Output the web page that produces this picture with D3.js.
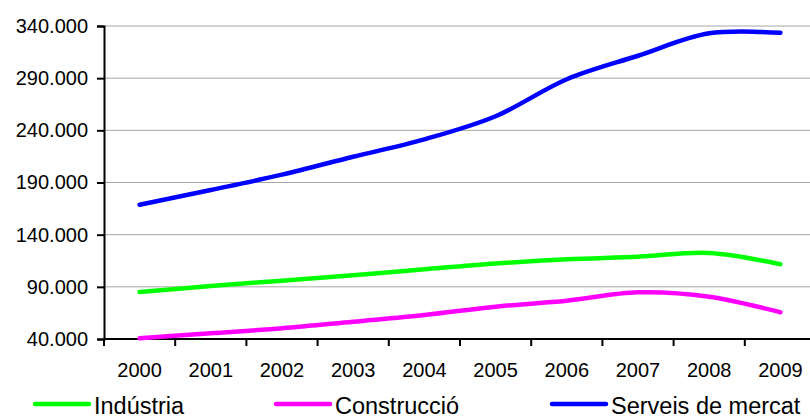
<!DOCTYPE html>
<html>
<head>
<meta charset="utf-8">
<script src="https://cdn.jsdelivr.net/npm/d3@7"></script>
<style>
  html, body { margin: 0; padding: 0; background: #fff; }
  svg { display: block; }
  text { font-family: "Liberation Sans", Arial, sans-serif; fill: #000; }
</style>
</head>
<body>
<svg id="chart" width="810" height="418"></svg>
<script>
const years = ["2000","2001","2002","2003","2004","2005","2006","2007","2008","2009"];
const industria   = [85000, 90800, 95900, 101000, 106800, 112300, 116400, 118900, 122500, 111600];
const construccio = [40700, 45500, 50300, 56600, 63000, 71000, 76700, 84700, 80500, 65600];
const serveis     = [168700, 182800, 197500, 214700, 231400, 253500, 289000, 311500, 333000, 333500];
const seriesNames = ["Indústria", "Construcció", "Serveis de mercat"];
const seriesColors = ["#00ff00", "#ff00ff", "#0000ff"];
const yTicks = [40000, 90000, 140000, 190000, 240000, 290000, 340000];

const svg = d3.select("#chart");
const pLeft = 104, pRight = 816, pTop = 26, pBottom = 339;

const x = d3.scaleBand().domain(years).range([pLeft, pRight]).padding(0);
const y = d3.scaleLinear().domain([40000, 340000]).range([pBottom, pTop]);
const loc = d3.formatLocale({decimal: ",", thousands: ".", grouping: [3], currency: ["", "€"]});
const fmt = loc.format(",.0f");

// gridlines
svg.append("g").selectAll("line").data(yTicks.slice(1)).join("line")
  .attr("x1", pLeft).attr("x2", pRight)
  .attr("y1", d => y(d)).attr("y2", d => y(d))
  .attr("stroke", "#a6a6a6").attr("stroke-width", 1);

// y axis
const yAxis = svg.append("g").attr("transform", `translate(${pLeft},0)`)
  .call(d3.axisLeft(y).tickValues(yTicks).tickFormat(fmt).tickSize(7).tickPadding(9));
yAxis.select(".domain").attr("stroke", "#000").attr("stroke-width", 2);
yAxis.selectAll(".tick line").attr("stroke", "#000").attr("stroke-width", 2);
yAxis.selectAll(".tick text").attr("font-size", "20px")
  .attr("font-family", "'Liberation Sans', Arial, sans-serif").attr("fill", "#000");

// x axis
const xAxis = svg.append("g").attr("transform", `translate(0,${pBottom})`)
  .call(d3.axisBottom(x).tickSize(0).tickPadding(24));
xAxis.select(".domain").remove();
xAxis.append("line").attr("x1", pLeft).attr("x2", pRight).attr("y1", 0).attr("y2", 0)
  .attr("stroke", "#000").attr("stroke-width", 2);
const bounds = years.map(d => x(d)).concat([x(years[years.length-1]) + x.bandwidth()]);
xAxis.selectAll(".bound").data(bounds).join("line").attr("class", "bound")
  .attr("x1", d => d).attr("x2", d => d).attr("y1", 0).attr("y2", 7)
  .attr("stroke", "#000").attr("stroke-width", 2);
xAxis.selectAll(".tick text").attr("font-size", "20px")
  .attr("font-family", "'Liberation Sans', Arial, sans-serif").attr("fill", "#000")
  .attr("dy", "0.71em");

// lines
const allSeries = [industria, construccio, serveis];
const line = d3.line()
  .x((d, i) => x(years[i]) + x.bandwidth() / 2)
  .y(d => y(d))
  .curve(d3.curveCatmullRom.alpha(0.5));
svg.append("g").selectAll("path").data(allSeries).join("path")
  .attr("d", d => line(d))
  .attr("fill", "none")
  .attr("stroke", (d, i) => seriesColors[i])
  .attr("stroke-width", 4.5)
  .attr("stroke-linecap", "round")
  .attr("stroke-linejoin", "round");

// legend
const legendX = [35, 276, 552];
const lg = svg.append("g").selectAll("g").data(seriesNames).join("g")
  .attr("transform", (d, i) => `translate(${legendX[i]},404)`);
lg.append("line").attr("x1", 0).attr("x2", 54).attr("y1", 0).attr("y2", 0)
  .attr("stroke", (d, i) => seriesColors[i]).attr("stroke-width", 4.5)
  .attr("stroke-linecap", "round");
lg.append("text").attr("x", 59).attr("y", 2).attr("dy", "0.36em")
  .attr("font-size", "23.5px").text(d => d);
</script>
</body>
</html>
